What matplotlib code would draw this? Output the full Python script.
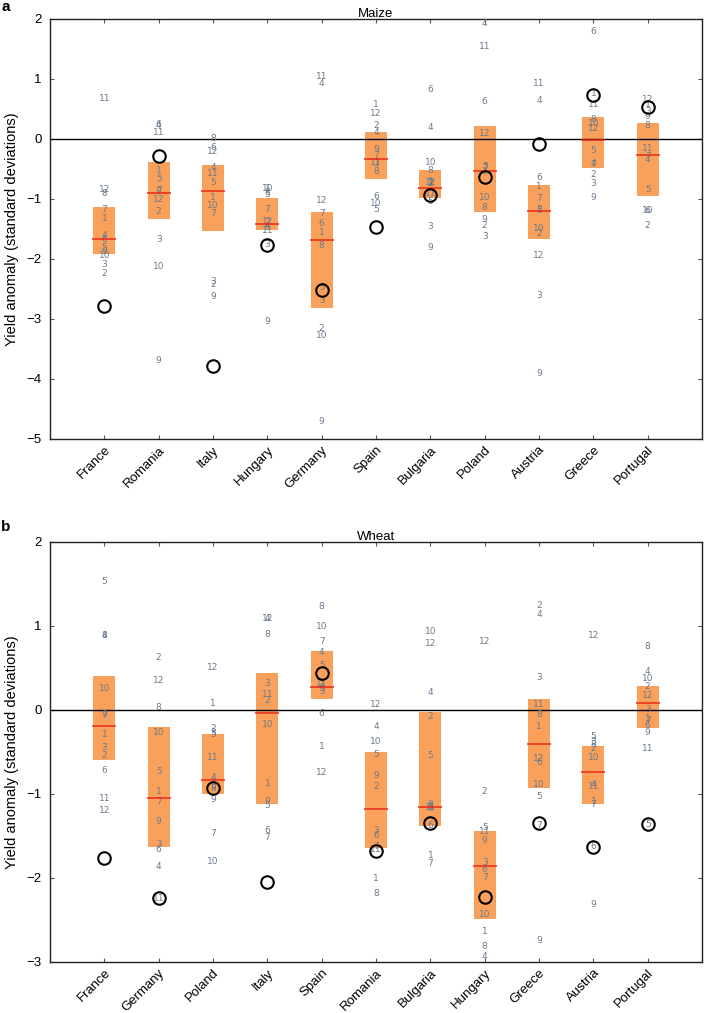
import matplotlib
matplotlib.use("Agg")
import matplotlib.pyplot as plt
import numpy as np

# ---- maize (panel a) ----
maize_countries = ["France", "Romania", "Italy", "Hungary", "Germany", "Spain",
                   "Bulgaria", "Poland", "Austria", "Greece", "Portugal"]
# ensemble members 1..12 for each country
maize_members = [
    [-1.32, -2.24, -2.10, -1.61, -1.81, -1.67, -1.18, -0.91, -1.87, -1.94, 0.68, -0.84],
    [-0.52, -1.21, -1.67, 0.23, -0.66, 0.24, -0.86, -0.88, -3.70, -2.13, 0.11, -1.01],
    [-0.97, -2.43, -2.38, -0.47, -0.73, -0.14, -1.24, 0.01, -2.63, -1.11, -0.58, -0.21],
    [-0.83, -1.40, -1.76, -1.45, -0.93, -1.48, -1.17, -0.89, -3.04, -0.83, -1.53, -1.38],
    [-1.56, -3.16, -2.69, 0.92, -2.47, -1.41, -1.24, -1.78, -4.71, -3.28, 1.04, -1.03],
    [0.58, 0.23, -0.41, 0.11, -1.18, -0.96, -0.28, -0.54, -0.17, -1.07, -0.39, 0.43],
    [-0.71, -0.75, -1.46, 0.19, -1.04, 0.83, -0.73, -0.53, -1.81, -0.39, -0.91, -0.72],
    [-0.54, -1.45, -1.62, 1.93, -0.46, 0.63, -0.47, -1.14, -1.34, -0.97, 1.54, 0.09],
    [-0.79, -1.57, -2.61, 0.64, -1.20, -0.64, -0.99, -1.17, -3.91, -1.49, 0.93, -1.94],
    [0.76, -0.60, -0.74, -0.41, -0.19, 1.79, -0.42, 0.33, -0.98, 0.26, 0.58, 0.18],
    [0.57, -1.44, 0.45, -0.34, -0.85, -1.20, -0.29, 0.23, 0.37, -1.20, -0.16, 0.66],
]
maize_box_lo = [-1.92, -1.34, -1.54, -1.52, -2.81, -0.66, -0.98, -1.21, -1.67, -0.48, -0.95]
maize_box_hi = [-1.13, -0.39, -0.44, -0.99, -1.22, 0.12, -0.51, 0.21, -0.77, 0.36, 0.26]
maize_median = [-1.66, -0.90, -0.86, -1.41, -1.68, -0.33, -0.81, -0.53, -1.20, -0.02, -0.27]
maize_obs = [-2.79, -0.28, -3.79, -1.76, -2.52, -1.46, -0.93, -0.64, -0.08, 0.73, 0.54]

# ---- wheat (panel b) ----
wheat_countries = ["France", "Germany", "Poland", "Italy", "Spain", "Romania",
                   "Bulgaria", "Hungary", "Greece", "Austria", "Portugal"]
wheat_members = [
    [-0.29, -0.54, -0.45, 0.89, 1.53, -0.72, -0.07, 0.89, -0.05, 0.26, -1.05, -1.20],
    [-0.97, 0.62, -1.60, -1.86, -0.73, -1.66, -1.09, 0.03, -1.33, -0.27, -2.24, 0.35],
    [0.08, -0.22, -0.27, -0.80, -0.29, -0.91, -1.47, -0.94, -1.06, -1.80, -0.57, 0.50],
    [-0.87, 0.11, 0.31, 1.09, -1.14, -1.43, -1.52, 0.90, -1.09, -0.17, 0.19, 1.09],
    [-0.44, 0.30, 0.22, 0.69, 0.53, -0.04, 0.81, 1.23, 0.26, 0.99, 0.32, -0.74],
    [-2.01, -0.91, -1.43, -0.20, -0.53, -1.50, -1.63, -2.19, -0.78, -0.38, -1.66, 0.07],
    [-1.73, -0.08, -1.15, 0.21, -0.54, -1.38, -1.83, -1.12, -1.17, 0.93, -1.16, 0.79],
    [-2.64, -0.97, -1.81, -2.94, -1.40, -1.90, -1.99, -2.82, -1.55, -2.43, -1.45, 0.82],
    [-0.20, 1.24, 0.39, 1.14, -1.03, -0.63, -1.38, -0.05, -2.74, -0.89, 0.06, -0.58],
    [-1.09, -0.46, -0.38, -0.89, -0.31, -1.63, -1.12, -0.41, -2.32, -0.57, -0.91, 0.89],
    [-0.10, 0.28, 0.00, 0.46, -1.36, -0.18, -0.13, 0.76, -0.27, 0.37, -0.46, 0.17],
]
wheat_box_lo = [-0.59, -1.63, -1.00, -1.12, 0.13, -1.64, -1.38, -2.49, -0.93, -1.12, -0.21]
wheat_box_hi = [0.41, -0.20, -0.29, 0.44, 0.70, -0.50, -0.02, -1.44, 0.13, -0.43, 0.29]
wheat_median = [-0.19, -1.05, -0.83, -0.04, 0.27, -1.18, -1.15, -1.86, -0.41, -0.74, 0.08]
wheat_obs = [-1.76, -2.24, -0.93, -2.05, 0.44, -1.68, -1.35, -2.23, -1.34, -1.63, -1.36]

box_color = "#f9a15a"
num_color = "#6b7a8c"


def plot(ax, countries, members, lo, hi, med, obs, ylim, title):
    x = np.arange(1, len(countries) + 1)
    ax.bar(x, np.array(hi) - np.array(lo), bottom=lo, width=0.4,
           color=box_color, linewidth=0, zorder=1)
    ax.axhline(0, color="black", lw=1, zorder=2)
    for i in range(len(countries)):
        for m in range(12):
            ax.text(x[i], members[i][m], str(m + 1), ha="center", va="center",
                    fontsize=6.5, color=num_color, family="DejaVu Sans", zorder=3)
    ax.hlines(med, x - 0.22, x + 0.22, color="#e8291c", lw=1.1, zorder=4)
    ax.plot(x, obs, "o", mfc="none", mec="black", mew=1.5, ms=9, zorder=5)
    ax.set_xlim(0, 12)
    ax.set_ylim(*ylim)
    ax.set_xticks(x)
    ax.set_xticklabels(countries, rotation=45, ha="right", rotation_mode="anchor",
                       fontsize=9.5)
    ax.set_yticks(range(ylim[0], ylim[1] + 1))
    ax.set_yticklabels([str(v).replace("-", "\u2212") for v in range(ylim[0], ylim[1] + 1)],
                       fontsize=9.5)
    ax.tick_params(axis="y", pad=6)
    ax.tick_params(direction="in", top=True, right=True, length=3, color="#555555")
    for s in ax.spines.values():
        s.set_linewidth(1)
        s.set_color("#222222")
    ax.set_title(title, fontsize=9.5, pad=1.5)
    ax.set_ylabel("Yield anomaly (standard deviations)", fontsize=10.5, labelpad=5)


plt.rcParams["font.family"] = ["Liberation Sans", "DejaVu Sans"]
fig = plt.figure(figsize=(7.04, 10.13), dpi=100)
W, H = 704.0, 1013.0
ax1 = fig.add_axes([50 / W, 1 - 439 / H, 652 / W, 420 / H])
ax2 = fig.add_axes([50 / W, 1 - 962 / H, 652 / W, 420 / H])

plot(ax1, maize_countries, maize_members, maize_box_lo, maize_box_hi,
     maize_median, maize_obs, (-5, 2), "Maize")
plot(ax2, wheat_countries, wheat_members, wheat_box_lo, wheat_box_hi,
     wheat_median, wheat_obs, (-3, 2), "Wheat")

fig.text(1 / W, 1 - 7 / H, "a", fontsize=11, fontweight="bold", va="center")
fig.text(1 / W, 1 - 527 / H, "b", fontsize=11, fontweight="bold", va="center")

fig.savefig("out.png", dpi=100)
